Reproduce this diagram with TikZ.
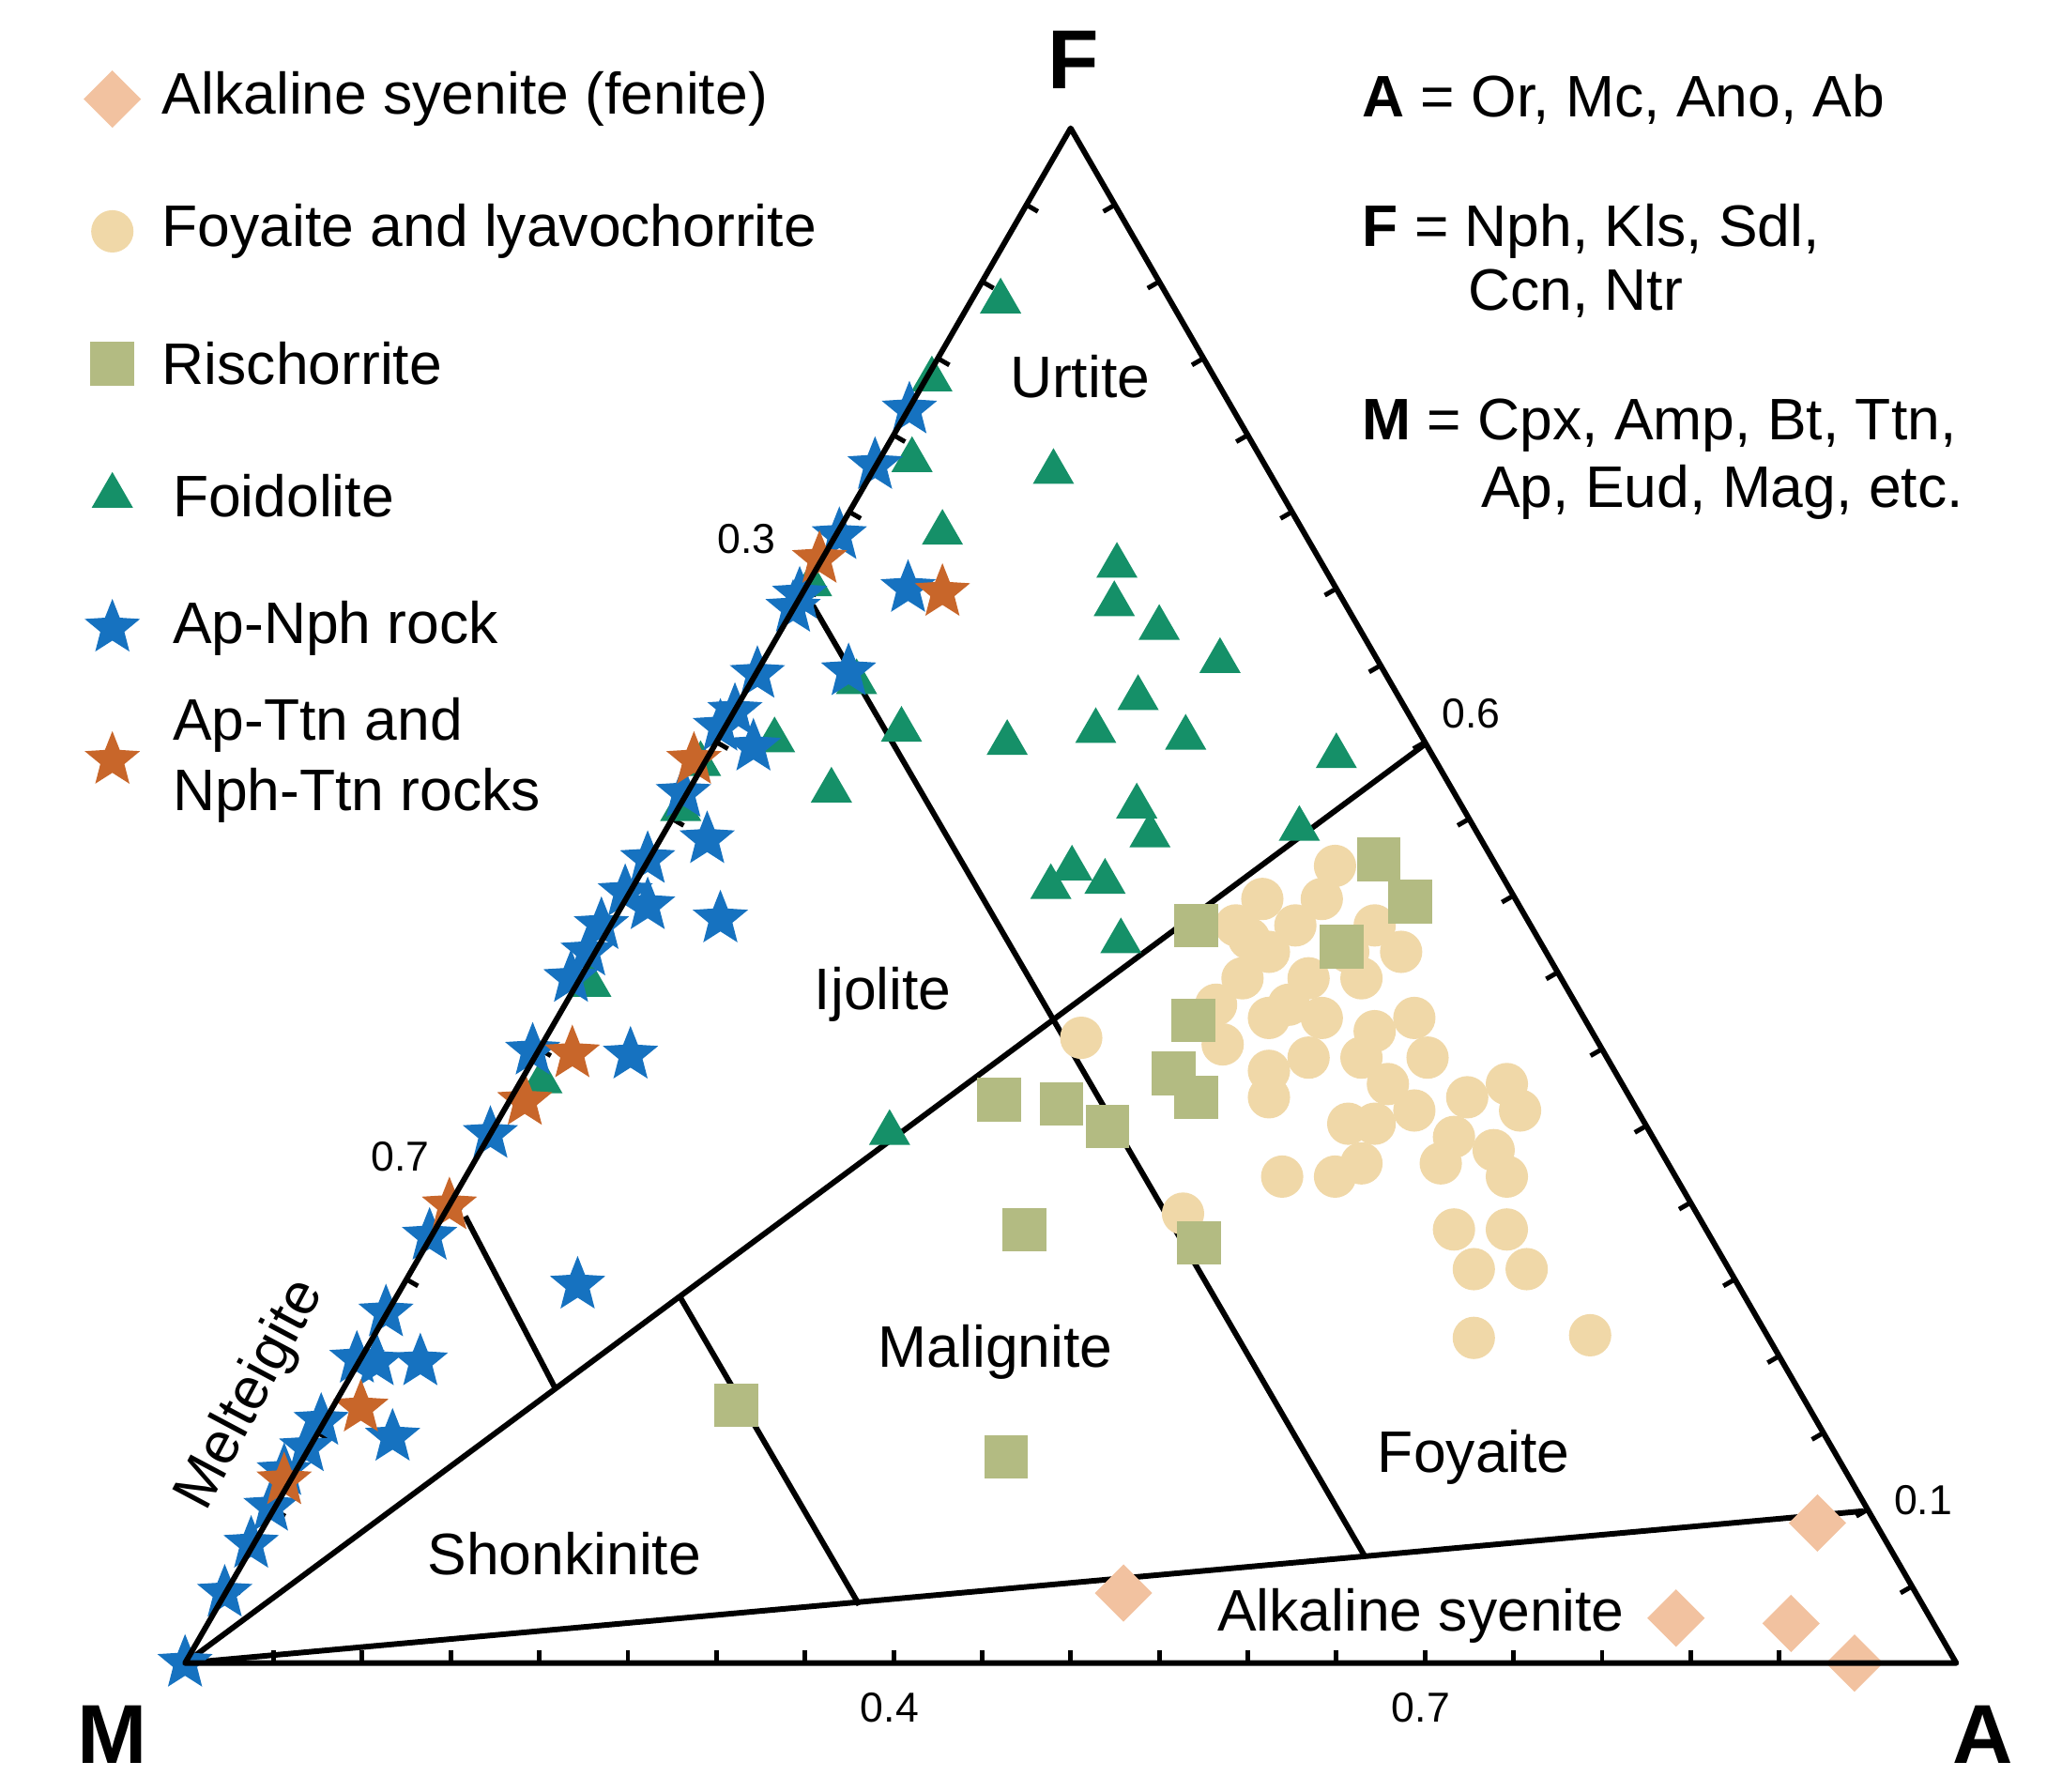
\documentclass[tikz,border=0pt]{standalone}
\usepackage{fontspec}
\setmainfont{Liberation Sans}
\usetikzlibrary{shapes.geometric,calc}
\definecolor{dia}{HTML}{F2C2A0}
\definecolor{cir}{HTML}{F0D8A8}
\definecolor{squ}{HTML}{B3BB82}
\definecolor{tri}{HTML}{159068}
\definecolor{bst}{HTML}{1672C0}
\definecolor{ost}{HTML}{C8662A}
\tikzset{
 pdia/.style={diamond,fill=dia,inner sep=0,minimum size=0.44cm},
 pcir/.style={circle,fill=cir,inner sep=0,minimum size=0.32cm},
 psqu/.style={rectangle,fill=squ,inner sep=0,minimum size=0.33cm},
 ptri/.style={regular polygon,regular polygon sides=3,fill=tri,inner sep=0,minimum size=0.36cm},
 pbst/.style={star,star points=5,star point ratio=2.3,fill=bst,inner sep=0,minimum size=0.44cm},
 post/.style={star,star points=5,star point ratio=2.3,fill=ost,inner sep=0,minimum size=0.44cm},
 leg/.style={anchor=west,font=\fontsize{12.6}{15}\selectfont,inner sep=0},
 reg/.style={font=\fontsize{12.6}{15}\selectfont,inner sep=0},
 tl/.style={font=\fontsize{9}{11}\selectfont,inner sep=0},
 vl/.style={font=\fontsize{18}{20}\selectfont\bfseries,inner sep=0},
 ln/.style={line width=1.2pt,line join=round}
}
\begin{document}
\begin{tikzpicture}[x=0.01cm,y=-0.01cm]
\useasboundingbox (0,0) rectangle (1560,1355);
\coordinate (M) at (140,1258);
\coordinate (A) at (1480,1258);
\coordinate (F) at (810,97);
% inner boundaries
\draw[ln] (M) -- (1410,1143);
\draw[ln] (M) -- (1078,563);
\draw[ln] (615,458) -- (1033,1178);
\draw[ln] (352,920) -- (420,1050);
\draw[ln] (515,982) -- (650,1214);
% ticks
\foreach \t in {0.05,0.1,...,0.96}{
 \draw[line width=1pt] ($(M)!\t!(A)$) -- ++(0,-10);
 \draw[line width=1pt] ($(A)!\t!(F)$) -- ++(-8.7,5);
 \draw[line width=1pt] ($(M)!\t!(F)$) -- ++(8.7,5);
}
% data
\foreach \x/\y in {818/785, 1010/655, 955/680, 935/700, 980/700, 1000/680, 960/720, 990/740, 940/740, 920/760, 960/770, 1000/770, 1040/700, 1060/720, 1030/740, 1040/780, 1070/770, 1080/800, 1030/800, 990/800, 960/810, 925/790, 1050/820, 1070/840, 1110/830, 1140/820, 1150/840, 1020/850, 1040/850, 1100/860, 1130/870, 1090/880, 1140/890, 1030/880, 1010/890, 960/830, 970/890, 1100/930, 1140/930, 1115/960, 1155/960, 1115/1012, 1203/1010, 895/918, 975/760, 945/710, 1020/720}
 \node[pcir] at (\x,\y) {};
\foreach \x/\y in {1043/650,1067/682,905/700,1015/716,903/772,888/812,905/830,756/832,803/835,838/852,775/930,907/940,557/1063,761/1102}
 \node[psqu] at (\x,\y) {};
\foreach \x/\y in {757/228,705/287,690/348,797/357,713/403,845/428,843/457,877/475,923/500,861/528,829/553,762/562,897/558,682/552,586/560,629/598,1011/572,983/627,860/610,870/632,811/657,836/667,795/671,848/712,673/857,648/516,614/442,447/745,410/818,515/612,530/578}
 \node[ptri] at (\x,\y) {};
\foreach \x/\y in {140/1258,170/1205,190/1168,205/1140,232/1095,243/1075,270/1028,292/993,297/1087,318/1030,325/935,371/858,403/795,437/972,477/798,432/740,445/720,455/700,473/675,490/685,490/650,545/695,535/635,517/600,545/550,556/538,570/565,573/510,642/508,600/460,605/450,635/405,662/352,688/310,687/445,215/1113,285/1030}
 \node[pbst] at (\x,\y) {};
\foreach \x/\y in {620/423,713/448,525/575,433/797,397/833,340/912,273/1065,215/1120}
 \node[post] at (\x,\y) {};
\foreach \x/\y in {850/1205,1375/1152,1268/1224,1355/1228,1403/1258}
 \node[pdia] at (\x,\y) {};
% outer triangle
\draw[ln] (M) -- (A) -- (F) -- cycle;
% labels
\node[vl] (lF) at (812,45) {F};
\node[vl] (lM) at (85,1312) {M};
\node[vl] (lA) at (1500,1312) {A};
\node[tl] at (565,408) {0.3};
\node[tl] at (303,875) {0.7};
\node[tl] at (1113,540) {0.6};
\node[tl] at (1455,1135) {0.1};
\node[tl] at (673,1292) {0.4};
\node[tl] at (1075,1292) {0.7};
\node[reg] at (817,285) {Urtite};
\node[reg] at (668,752) {Ijolite};
\node[reg] at (753,1023) {Malignite};
\node[reg] at (1115,1102) {Foyaite};
\node[reg] at (427,1175) {Shonkinite};
\node[reg] at (1075,1222) {Alkaline syenite};
\node[reg,rotate=62] at (190,1055) {Melteigite};
% legend
\node[pdia] (k1) at (85,75) {};
\node[leg] at (122,75) {Alkaline syenite (fenite)};
\node[pcir] (k2) at (85,175) {};
\node[leg] at (122,175) {Foyaite and lyavochorrite};
\node[psqu] (k3) at (85,275) {};
\node[leg] at (122,275) {Rischorrite};
\node[ptri] (k4) at (85,375) {};
\node[leg] at (130,375) {Foidolite};
\node[pbst] (k5) at (85,475) {};
\node[leg] at (130,475) {Ap-Nph rock};
\node[post] (k6) at (85,575) {};
\node[leg,align=left] at (130,575) {Ap-Ttn and\\Nph-Ttn rocks};
% right text
\node[leg] at (1030,75) {\textbf{A} = Or, Mc, Ano, Ab};
\node[leg] at (1030,175) {\textbf{F} = Nph, Kls, Sdl,};
\node[leg] at (1110,222) {Ccn, Ntr};
\node[leg] at (1030,322) {\textbf{M} = Cpx, Amp, Bt, Ttn,};
\node[leg] at (1120,372) {Ap, Eud, Mag, etc.};
\end{tikzpicture}
\end{document}
